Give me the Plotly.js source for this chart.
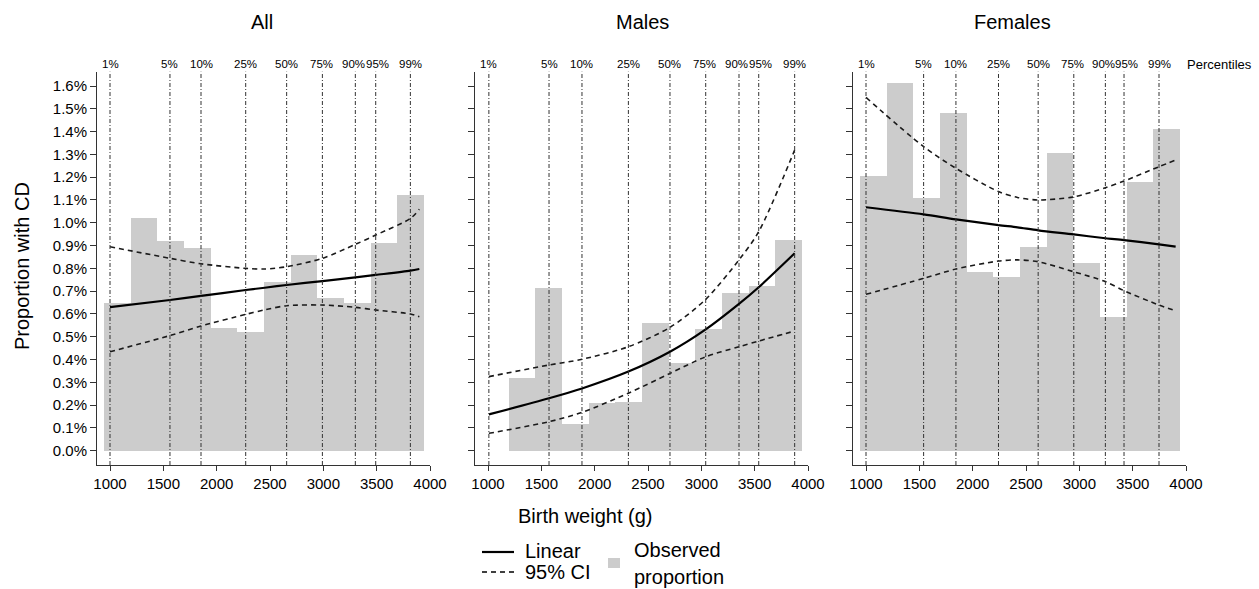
<!DOCTYPE html>
<html>
<head>
<meta charset="utf-8">
<script src="https://cdn.plot.ly/plotly-3.0.1.min.js"></script>
<style>html,body{margin:0;padding:0;background:#fff;}#chart{width:1259px;height:589px;}</style>
</head>
<body>
<div id="chart"></div>
<script>
// ---- data ----
const panelTitles = ['All', 'Males', 'Females'];
const binCenters = [1069, 1319, 1569, 1819, 2069, 2319, 2569, 2819, 3069, 3319, 3569, 3819];
const binWidth = 250;
const allObs = [0.65, 1.02, 0.92, 0.89, 0.54, 0.52, 0.74, 0.86, 0.67, 0.65, 0.91, 1.12];
const maleObs = [0, 0.32, 0.715, 0.116, 0.208, 0.212, 0.559, 0.386, 0.534, 0.693, 0.722, 0.926];
const femaleObs = [1.205, 1.612, 1.109, 1.480, 0.784, 0.761, 0.895, 1.307, 0.822, 0.588, 1.177, 1.413];

const pctLabels = ['1%', '5%', '10%', '25%', '50%', '75%', '90%', '95%', '99%'];
const allPct = [1000, 1562, 1853, 2272, 2656, 2991, 3300, 3491, 3816];
const malePct = [1008, 1572, 1881, 2316, 2706, 3041, 3353, 3538, 3875];
const femalePct = [1000, 1540, 1843, 2242, 2614, 2948, 3244, 3419, 3747];

const allFitX = [1000, 1562, 1853, 2272, 2450, 2656, 2991, 3300, 3491, 3816, 3900];
const allLinear = [0.630, 0.661, 0.679, 0.705, 0.715, 0.727, 0.744, 0.760, 0.771, 0.790, 0.797];
const allUpper = [0.895, 0.844, 0.820, 0.800, 0.797, 0.807, 0.844, 0.905, 0.946, 1.019, 1.059];
const allLower = [0.434, 0.505, 0.547, 0.598, 0.618, 0.636, 0.639, 0.629, 0.617, 0.600, 0.588];

const maleFitX = [1008, 1572, 1881, 2316, 2706, 3041, 3353, 3538, 3875];
const maleLinear = [0.159, 0.230, 0.273, 0.347, 0.434, 0.532, 0.644, 0.717, 0.866];
const maleUpper = [0.325, 0.376, 0.401, 0.456, 0.541, 0.664, 0.837, 0.961, 1.319];
const maleLower = [0.076, 0.127, 0.168, 0.252, 0.339, 0.412, 0.456, 0.481, 0.525];

const femaleFitX = [1000, 1540, 1843, 2242, 2420, 2614, 2948, 3244, 3419, 3747, 3903];
const femaleLinear = [1.068, 1.037, 1.015, 0.990, 0.980, 0.967, 0.949, 0.932, 0.924, 0.905, 0.895];
const femaleUpper = [1.550, 1.334, 1.239, 1.137, 1.111, 1.100, 1.114, 1.154, 1.183, 1.246, 1.275];
const femaleLower = [0.686, 0.756, 0.797, 0.832, 0.837, 0.829, 0.785, 0.742, 0.702, 0.639, 0.614];

const yTickVals = [0, 0.1, 0.2, 0.3, 0.4, 0.5, 0.6, 0.7, 0.8, 0.9, 1.0, 1.1, 1.2, 1.3, 1.4, 1.5, 1.6];
const yTickText = ['0.0%', '0.1%', '0.2%', '0.3%', '0.4%', '0.5%', '0.6%', '0.7%', '0.8%', '0.9%', '1.0%', '1.1%', '1.2%', '1.3%', '1.4%', '1.5%', '1.6%'];
const xTickVals = [1000, 1500, 2000, 2500, 3000, 3500, 4000];

// ---- layout helpers ----
const W = 1259, H = 589;
const px = v => v / W;
const py = v => 1 - v / H;
const FONT = 'Liberation Sans, Arial, Helvetica, sans-serif';

const panels = [
  {obs: allObs, pct: allPct, fx: allFitX, lin: allLinear, up: allUpper, lo: allLower, dom: [97, 430], tx: 262},
  {obs: maleObs, pct: malePct, fx: maleFitX, lin: maleLinear, up: maleUpper, lo: maleLower, dom: [475, 808], tx: 642},
  {obs: femaleObs, pct: femalePct, fx: femaleFitX, lin: femaleLinear, up: femaleUpper, lo: femaleLower, dom: [853, 1186], tx: 1012}
];
// small horizontal nudges so neighbouring percentile labels do not collide
const labelShift = [0, 0, 0, 0, 0, -1, -2, 2, 0];

const traces = [];
const shapes = [];
const annotations = [];
const layout = {
  width: W, height: H,
  margin: {l: 0, r: 0, t: 0, b: 0},
  paper_bgcolor: '#fff', plot_bgcolor: '#fff',
  showlegend: false,
  font: {family: FONT, color: '#000'},
  bargap: 0
};

panels.forEach((p, i) => {
  const n = i === 0 ? '' : String(i + 1);
  const xa = 'x' + n, ya = 'y' + n;
  traces.push({type: 'bar', x: binCenters, y: p.obs, width: binWidth, xaxis: xa, yaxis: ya,
    marker: {color: '#cccccc', line: {width: 0}}, hoverinfo: 'skip'});
  traces.push({type: 'scatter', mode: 'lines', x: p.fx, y: p.lo, xaxis: xa, yaxis: ya,
    line: {color: '#1a1a1a', width: 1.6, dash: '5px,4px', shape: 'spline', smoothing: 0.8}});
  traces.push({type: 'scatter', mode: 'lines', x: p.fx, y: p.up, xaxis: xa, yaxis: ya,
    line: {color: '#1a1a1a', width: 1.6, dash: '5px,4px', shape: 'spline', smoothing: 0.8}});
  traces.push({type: 'scatter', mode: 'lines', x: p.fx, y: p.lin, xaxis: xa, yaxis: ya,
    line: {color: '#000', width: 2.2, shape: 'spline', smoothing: 0.8}});

  layout['xaxis' + n] = {
    domain: [px(p.dom[0]), px(p.dom[1])], anchor: ya, range: [878, 4000],
    tickmode: 'array', tickvals: xTickVals, ticks: 'outside', ticklen: 5, tickwidth: 1, tickcolor: '#333',
    showline: true, linecolor: '#333', linewidth: 1, showgrid: false, zeroline: false,
    tickfont: {size: 15, family: FONT, color: '#000'}
  };
  layout['yaxis' + n] = {
    domain: [py(465), py(71.7)], anchor: xa, range: [-0.063, 1.663],
    tickmode: 'array', tickvals: yTickVals, ticktext: yTickText, ticks: 'outside', ticklen: 6, tickwidth: 1, tickcolor: '#333',
    showline: true, linecolor: '#333', linewidth: 1, showgrid: false, zeroline: false,
    showticklabels: i === 0, tickfont: {size: 15, family: FONT, color: '#000'}
  };

  p.pct.forEach((v, k) => {
    shapes.push({type: 'line', xref: xa, yref: 'paper', x0: v, x1: v, y0: py(465), y1: py(71.7),
      line: {color: '#333', width: 1, dash: '4px,2px,1px,2px'}});
    annotations.push({xref: xa, yref: 'paper', x: v, y: py(64), text: pctLabels[k], showarrow: false,
      xshift: labelShift[k], xanchor: 'center', yanchor: 'middle', font: {size: 11.5, family: FONT, color: '#000'}});
  });

  annotations.push({xref: 'paper', yref: 'paper', x: px(p.tx), y: py(22), text: panelTitles[i], showarrow: false,
    xanchor: 'center', yanchor: 'middle', font: {size: 20, family: FONT, color: '#000'}});
});

annotations.push({xref: 'paper', yref: 'paper', x: px(1185), y: py(64), text: 'Percentiles', showarrow: false,
  xanchor: 'left', yanchor: 'middle', font: {size: 13, family: FONT, color: '#000'}});

// axis titles
annotations.push({xref: 'paper', yref: 'paper', x: px(22), y: py(266), text: 'Proportion with CD', textangle: -90,
  showarrow: false, xanchor: 'center', yanchor: 'middle', font: {size: 20, family: FONT, color: '#000'}});
annotations.push({xref: 'paper', yref: 'paper', x: px(585), y: py(516), text: 'Birth weight (g)',
  showarrow: false, xanchor: 'center', yanchor: 'middle', font: {size: 20, family: FONT, color: '#000'}});

// legend
shapes.push({type: 'line', xref: 'paper', yref: 'paper', x0: px(482), x1: px(514), y0: py(552), y1: py(552),
  line: {color: '#000', width: 2.2}});
shapes.push({type: 'line', xref: 'paper', yref: 'paper', x0: px(482), x1: px(514), y0: py(572), y1: py(572),
  line: {color: '#000', width: 1.6, dash: '5px,4px'}});
shapes.push({type: 'rect', xref: 'paper', yref: 'paper', x0: px(608), x1: px(620), y0: py(568), y1: py(558),
  fillcolor: '#cccccc', line: {width: 0}});
annotations.push({xref: 'paper', yref: 'paper', x: px(523), y: py(551), text: 'Linear', showarrow: false,
  xanchor: 'left', yanchor: 'middle', font: {size: 20, family: FONT, color: '#000'}});
annotations.push({xref: 'paper', yref: 'paper', x: px(523), y: py(572), text: '95% CI', showarrow: false,
  xanchor: 'left', yanchor: 'middle', font: {size: 20, family: FONT, color: '#000'}});
annotations.push({xref: 'paper', yref: 'paper', x: px(632), y: py(550), text: 'Observed', showarrow: false,
  xanchor: 'left', yanchor: 'middle', font: {size: 20, family: FONT, color: '#000'}});
annotations.push({xref: 'paper', yref: 'paper', x: px(632), y: py(577), text: 'proportion', showarrow: false,
  xanchor: 'left', yanchor: 'middle', font: {size: 20, family: FONT, color: '#000'}});

layout.shapes = shapes;
layout.annotations = annotations;

Plotly.newPlot('chart', traces, layout, {displayModeBar: false, staticPlot: true});
</script>
</body>
</html>
